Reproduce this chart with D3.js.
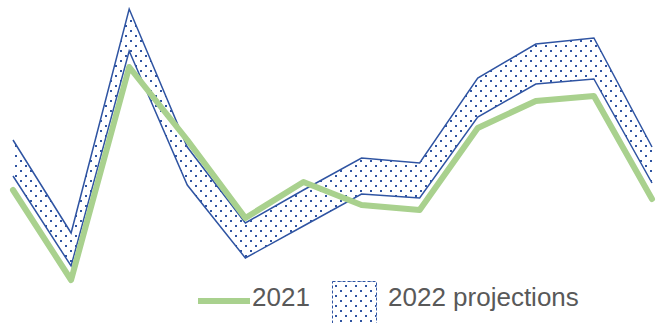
<!DOCTYPE html>
<html>
<head>
<meta charset="utf-8">
<script src="https://cdn.jsdelivr.net/npm/d3@7"></script>
<style>
  body { margin: 0; background: #fff; }
  svg { display: block; }
  .legend-text { font-family: "Liberation Sans", Arial, sans-serif; font-size: 26px; fill: #595959; }
</style>
</head>
<body>
<div id="chart"></div>
<script>
// data
const months = ["Jan", "Feb", "Mar", "Apr", "May", "Jun", "Jul", "Aug", "Sep", "Oct", "Nov", "Dec"];
const values2021 = [55, 10, 116.5, 80, 41, 59, 47.5, 45, 86, 99.5, 102, 50.5];
const projHigh = [80, 33.5, 145.5, 76.5, 38.5, 55, 71, 68.5, 111, 128, 131, 76.5];
const projLow = [62, 17, 124.5, 57.5, 21, 37, 53, 51, 91.5, 108, 110.5, 58.5];
const seriesNames = ["2021", "2022 projections"];

const width = 672, height = 323;
const blue = "#2F54A2";
const green = "#A9D18E";

const svg = d3.select("#chart")
    .append("svg")
    .attr("width", width)
    .attr("height", height);

// dotted fill like the office "10%" pattern
const pattern = svg.append("defs").append("pattern")
    .attr("id", "dots")
    .attr("patternUnits", "userSpaceOnUse")
    .attr("width", 10)
    .attr("height", 10);
pattern.append("rect").attr("width", 10).attr("height", 10).attr("fill", "#fff");
pattern.append("rect").attr("x", 0).attr("y", 0).attr("width", 2).attr("height", 2).attr("fill", blue);
pattern.append("rect").attr("x", 5).attr("y", 5).attr("width", 2).attr("height", 2).attr("fill", blue);

const xScale = d3.scalePoint().domain(months).range([13, 652]);
const yScale = d3.scaleLinear().domain([0, 150]).range([300, 0]);

const band = d3.area()
    .x((d, i) => xScale(months[i]))
    .y0((d, i) => yScale(projLow[i]))
    .y1((d, i) => yScale(projHigh[i]));

svg.append("path")
    .datum(projHigh)
    .attr("d", band)
    .attr("fill", "url(#dots)");

const line = d3.line()
    .x((d, i) => xScale(months[i]))
    .y(d => yScale(d));

[projHigh, projLow].forEach(arr => {
    svg.append("path")
        .datum(arr)
        .attr("d", line)
        .attr("fill", "none")
        .attr("stroke", blue)
        .attr("stroke-width", 1.5);
});

svg.append("path")
    .datum(values2021)
    .attr("d", line)
    .attr("fill", "none")
    .attr("stroke", green)
    .attr("stroke-width", 6)
    .attr("stroke-linecap", "round")
    .attr("stroke-linejoin", "round");

// legend
const legend = svg.append("g").attr("class", "legend");
legend.append("line")
    .attr("x1", 198).attr("x2", 250)
    .attr("y1", 301).attr("y2", 301)
    .attr("stroke", green)
    .attr("stroke-width", 6);
legend.append("text")
    .attr("class", "legend-text")
    .attr("x", 252).attr("y", 306)
    .text(seriesNames[0]);
legend.append("rect")
    .attr("x", 332.5).attr("y", 281.5)
    .attr("width", 44).attr("height", 42)
    .attr("fill", "url(#dots)")
    .attr("stroke", blue)
    .attr("stroke-width", 1)
    .attr("stroke-dasharray", "3,2");
legend.append("text")
    .attr("class", "legend-text")
    .attr("x", 388).attr("y", 306)
    .text(seriesNames[1]);
</script>
</body>
</html>
